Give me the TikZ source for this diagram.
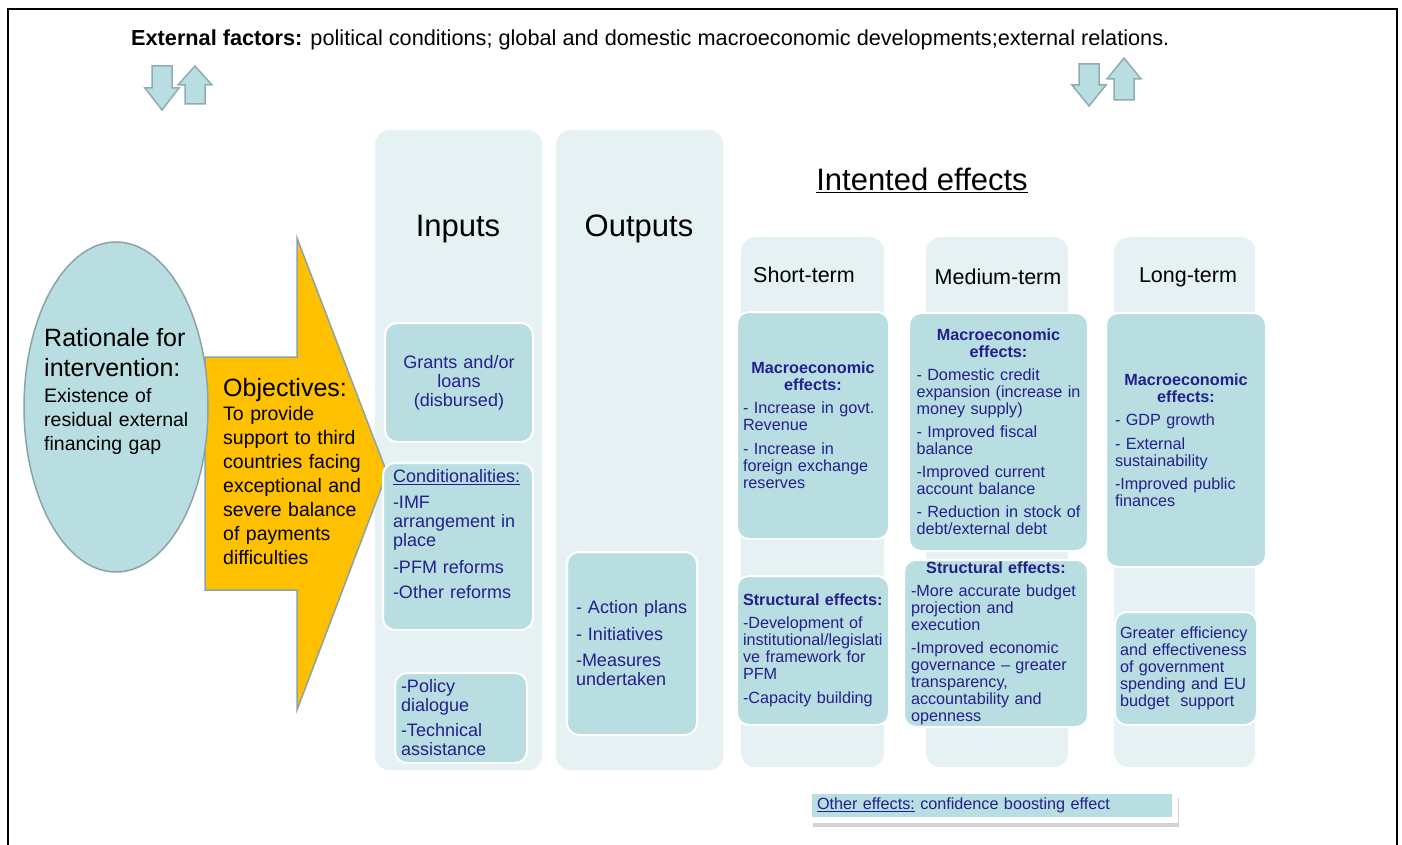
\documentclass[tikz,border=0pt]{standalone}
\usepackage{fontspec}
\setmainfont{Liberation Sans}
\usetikzlibrary{positioning,shapes.geometric,shadows}
\definecolor{colbg}{RGB}{229,241,243}
\definecolor{boxbg}{RGB}{185,222,226}
\definecolor{navy}{RGB}{35,31,140}
\definecolor{edge}{RGB}{139,163,166}
\definecolor{arrowedge}{RGB}{143,172,176}
\definecolor{gold}{RGB}{255,192,0}
\setlength{\parindent}{0pt}
\hyphenpenalty=10000
\exhyphenpenalty=10000

\begin{document}
\begin{tikzpicture}[x=1pt,y=-1pt]
	% Estilos
	\tikzstyle{column} = [rectangle, rounded corners=14pt, fill=colbg, anchor=north west, inner sep=0pt]
	\tikzstyle{effect} = [rectangle, rounded corners=12pt, draw=white, line width=2pt, fill=boxbg, text=navy, inner sep=0pt, align=left, font=\fontsize{16.2}{17}\selectfont]
	\tikzstyle{input} = [effect, font=\fontsize{18}{19}\selectfont]
	\tikzstyle{heading} = [anchor=base, font=\fontsize{31}{34}\selectfont]
	\tikzstyle{term} = [anchor=base, font=\fontsize{21.5}{24}\selectfont]
	\tikzstyle{blockarrow} = [fill=boxbg, draw=arrowedge, line width=1.5pt]
	\tikzstyle{plain} = [anchor=north west, inner sep=0pt, align=left, font=\fontsize{19.5}{24}\selectfont]
	\useasboundingbox (0,0) rectangle (1402,845);
	% Moldura
	\draw[line width=2.5pt] (8,846) -- (8,9) -- (1397,9) -- (1397,846);
	% Fatores externos
	\node[anchor=base west, inner sep=0pt, font=\fontsize{21.7}{24}\selectfont] (factors) at (131,46) {\textbf{External factors:} political conditions; global and domestic macroeconomic developments;external relations.};
	\draw[blockarrow, shift={(162,66)}] (-10,0) -- (10,0) -- (10,22) -- (17,22) -- (0,44) -- (-17,22) -- (-10,22) -- cycle;
	\draw[blockarrow, shift={(195,66)}] (0,0) -- (17,19) -- (10,19) -- (10,38) -- (-10,38) -- (-10,19) -- (-17,19) -- cycle;
	\draw[blockarrow, shift={(1089,64)}] (-10,0) -- (10,0) -- (10,21) -- (17,21) -- (0,42) -- (-17,21) -- (-10,21) -- cycle;
	\draw[blockarrow, shift={(1124,58)}] (0,0) -- (17,21) -- (10,21) -- (10,42) -- (-10,42) -- (-10,21) -- (-17,21) -- cycle;
	% Colunas
	\node[column, minimum width=167, minimum height=640] (inputs) at (375,130) {};
	\node[column, minimum width=167, minimum height=640] (outputs) at (556,130) {};
	\node[column, minimum width=143, minimum height=530] (short) at (741,237) {};
	\node[column, minimum width=142, minimum height=530] (medium) at (926,237) {};
	\node[column, minimum width=141, minimum height=530] (long) at (1114,237) {};
	\node[heading] (inputstitle) at (458,236) {Inputs};
	\node[heading] (outputstitle) at (639,236) {Outputs};
	\node[heading] (effectstitle) at (922,190) {\underline{Intented effects}};
	\node[term] (shorttitle) at (804,282) {Short-term};
	\node[term] (mediumtitle) at (998,284) {Medium-term};
	\node[term] (longtitle) at (1188,282) {Long-term};
	% Seta amarela e elipse
	\draw[draw=edge, fill=gold, line width=1.5pt] (205,357) -- (297,357) -- (297,238) -- (387,473) -- (297,710) -- (297,590) -- (205,590) -- cycle;
	\node[ellipse, draw=edge, fill=boxbg, line width=1.5pt, minimum width=184, minimum height=330, inner sep=0pt] (rationale) at (116,407) {};
	\node[plain, text width=170] (rationaletext) at (44,328) {{\fontsize{25}{30}\selectfont Rationale for\\intervention:\\[2pt]}Existence of\\residual external\\financing gap};
	\node[plain, text width=160] (objectives) at (223,378) {{\fontsize{25}{30}\selectfont Objectives:\par}To provide\\support to third\\countries facing\\exceptional and\\severe balance\\of payments\\difficulties};
	% Caixas
	\node[input, minimum width=148, minimum height=119, text width=140, align=center] (grants) at (459,382.5) {Grants and/or\\loans\\(disbursed)};
	\node[input, minimum width=150, minimum height=167, text width=130] (cond) at (458,546.5) {\underline{Conditionalities:}\\[7pt]-IMF\\arrangement in\\place\\[8pt]-PFM reforms\\[6pt]-Other reforms\par\vspace{24pt}};
	\node[input, minimum width=132, minimum height=90, text width=120] (policy) at (461,718) {-Policy\\dialogue\\[6pt]-Technical\\assistance};
	\node[input, minimum width=130, minimum height=183, text width=112] (actions) at (632,643.5) {- Action plans\\[8pt]- Initiatives\\[7pt]-Measures\\undertaken};
	\node[effect, minimum width=152, minimum height=227, text width=140] (stmacro) at (813,425.5) {{\centering\bfseries Macroeconomic\\effects:\\[6pt]}- Increase in govt.\\Revenue\\[7pt]- Increase in\\foreign exchange\\reserves};
	\node[effect, minimum width=152, minimum height=149, text width=140] (ststruct) at (813,650.5) {{\bfseries Structural effects:}\\[6pt]-Development of\\institutional/legislati\\ve framework for\\PFM\\[7pt]-Capacity building};
	\node[effect, minimum width=179, minimum height=238, text width=164] (mtmacro) at (998.5,432) {{\centering\bfseries Macroeconomic\\effects:\\[6pt]}- Domestic credit\\expansion (increase in\\money supply)\\[6pt]- Improved fiscal\\balance\\[6pt]-Improved current\\account balance\\[6pt]- Reduction in stock of\\debt/external debt};
	\node[effect, minimum width=184, minimum height=167, text width=170] (mtstruct) at (996,643.5) {{\centering\bfseries Structural effects:\\[6pt]}-More accurate budget\\projection and\\execution\\[6pt]-Improved economic\\governance – greater\\transparency,\\accountability and\\openness};
	\node[effect, minimum width=160, minimum height=254, text width=142] (ltmacro) at (1186,440) {{\centering\bfseries Macroeconomic\\effects:\\[6pt]}- GDP growth\\[7pt]- External\\sustainability\\[6pt]-Improved public\\finances};
	\node[effect, minimum width=142, minimum height=113, text width=132] (ltgreater) at (1186,668.5) {Greater efficiency\\and effectiveness\\of government\\spending and EU\\budget~ support};
	\node[effect, sharp corners, line width=6pt, minimum width=366, minimum height=29, text width=350, drop shadow={shadow xshift=4pt, shadow yshift=-7pt, opacity=0.35}] (other) at (992,805) {\underline{Other effects:} confidence boosting effect};
\end{tikzpicture}
\end{document}
